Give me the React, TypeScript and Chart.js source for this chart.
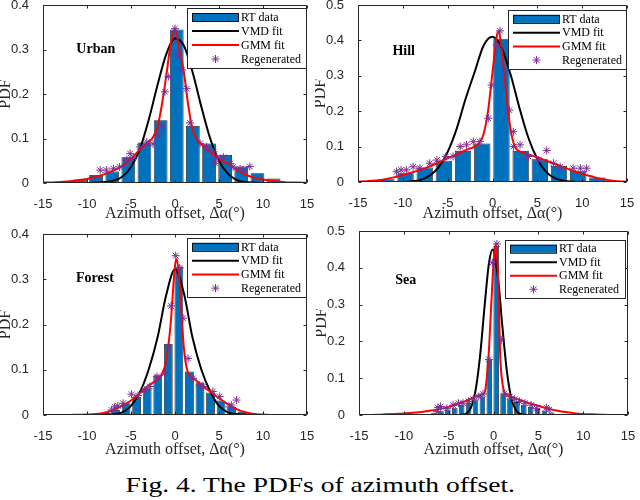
import React, { useEffect, useRef } from "react";
import { Chart, registerables } from "chart.js";

Chart.register(...registerables);

const BLUE = "#0072BD";
const PURPLE = "#7E2F8E";
const AXIS = "#262626";

const xTicks = [-15, -10, -5, 0, 5, 10, 15];
const yTicks04 = [0, 0.1, 0.2, 0.3, 0.4];
const yTicks05 = [0, 0.1, 0.2, 0.3, 0.4, 0.5];
const legendLabels = ["RT data", "VMD fit", "GMM fit", "Regenerated"];
const xTitle = "Azimuth offset, \u0394\u03b1(\u00b0)";
const yTitle = "PDF";
const caption = "Fig. 4. The PDFs of azimuth offset.";

// ---------- Urban ----------
const urbanBinX = [-10.8, -8.97, -7.13, -5.3, -3.47, -1.63, 0.2, 2.03, 3.87, 5.7, 7.53, 9.37, 11.2];
const urbanBinY = [0.008, 0.018, 0.026, 0.058, 0.091, 0.141, 0.345, 0.128, 0.089, 0.063, 0.037, 0.022, 0.01];
const urbanVmdX = [-15, -14, -13, -12, -11, -10, -9, -8, -7, -6, -5, -4, -3, -2, -1, 0, 1, 2, 3, 4, 5, 6, 7, 8, 9, 10, 11, 12, 13, 14, 15];
const urbanVmdY = [0, 0, 0, 0, 0, 0, 0.001, 0.002, 0.005, 0.014, 0.036, 0.076, 0.141, 0.219, 0.289, 0.325, 0.309, 0.249, 0.171, 0.1, 0.05, 0.021, 0.007, 0.002, 0.001, 0, 0, 0, 0, 0, 0];
const urbanGmmX = [-15, -14, -13, -12, -11, -10, -9, -8, -7, -6, -5, -4, -3, -2.5, -2, -1.5, -1, -0.5, 0, 0.5, 1, 1.5, 2, 2.5, 3, 4, 5, 6, 7, 8, 9, 10, 11, 12, 13, 14, 15];
const urbanGmmY = [0.001, 0.001, 0.002, 0.004, 0.006, 0.009, 0.014, 0.02, 0.028, 0.038, 0.054, 0.075, 0.092, 0.103, 0.125, 0.175, 0.24, 0.31, 0.345, 0.3, 0.25, 0.175, 0.12, 0.098, 0.087, 0.07, 0.055, 0.043, 0.03, 0.019, 0.012, 0.008, 0.005, 0.003, 0.001, 0.001, 0];
const urbanRegX = [0, 0.4, 0.8, -0.76, 1.33, -1.14, 1.7, -1.5, -1.9, -3.2, -2.5, -4.0, -5.1, -4.75, -5.5, 2.85, 3.6, 4.4, 4.75, 5.5, 4.56, 6.3, 6.6, 7.4, 8.5, 7.8, -8.5, -7.8, -7.0, -6.3];
const urbanRegY = [0.347, 0.29, 0.254, 0.239, 0.212, 0.205, 0.135, 0.126, 0.107, 0.092, 0.088, 0.081, 0.066, 0.058, 0.051, 0.089, 0.081, 0.07, 0.055, 0.058, 0.044, 0.044, 0.036, 0.032, 0.037, 0.029, 0.029, 0.029, 0.032, 0.036];

// ---------- Hill ----------
const hillBinX = [-11.84, -9.7, -7.56, -5.42, -3.28, -1.14, 1.0, 3.14, 5.28, 7.42, 9.56, 11.7];
const hillBinY = [0.008, 0.025, 0.041, 0.06, 0.088, 0.109, 0.405, 0.088, 0.064, 0.045, 0.032, 0.013];
const hillVmdX = [-15, -14, -13, -12, -11, -10, -9, -8, -7, -6, -5, -4, -3, -2, -1, 0, 1, 2, 3, 4, 5, 6, 7, 8, 9, 10, 11, 12, 13, 14, 15];
const hillVmdY = [0, 0, 0, 0, 0, 0, 0.002, 0.006, 0.018, 0.042, 0.085, 0.15, 0.235, 0.31, 0.385, 0.41, 0.38, 0.305, 0.21, 0.125, 0.065, 0.028, 0.01, 0.003, 0.001, 0, 0, 0, 0, 0, 0];
const hillGmmX = [-15, -14, -13, -12, -11, -10, -9, -8, -7, -6, -5, -4, -3, -2, -1.5, -1, -0.5, 0, 0.5, 0.7, 1, 1.5, 2, 2.5, 3, 4, 5, 6, 7, 8, 9, 10, 11, 12, 13, 14, 15];
const hillGmmY = [0.001, 0.002, 0.004, 0.008, 0.013, 0.02, 0.027, 0.035, 0.044, 0.055, 0.067, 0.078, 0.09, 0.1, 0.11, 0.135, 0.2, 0.31, 0.415, 0.425, 0.38, 0.26, 0.15, 0.1, 0.087, 0.078, 0.07, 0.06, 0.051, 0.041, 0.031, 0.023, 0.016, 0.009, 0.005, 0.002, 0.001];
const hillRegX = [0.84, 0.47, -0.1, 1.4, 1.88, 2.33, -0.47, 3.07, 2.33, 4.0, 5.1, 6.05, 6.8, 7.55, 9.0, 9.8, 10.5, -1.4, -2.14, -2.9, -3.6, -4.4, -5.2, -6.2, -7.0, -8.1, -8.85, -9.6, -10.2, -10.7];
const hillRegY = [0.427, 0.387, 0.274, 0.312, 0.203, 0.142, 0.18, 0.105, 0.1, 0.072, 0.062, 0.089, 0.053, 0.043, 0.039, 0.039, 0.039, 0.114, 0.114, 0.105, 0.1, 0.072, 0.072, 0.062, 0.053, 0.039, 0.043, 0.034, 0.034, 0.029];

// ---------- Forest ----------
const forestBinX = [-11.56, -10.36, -9.16, -7.96, -6.76, -5.56, -4.36, -3.16, -1.96, -0.76, 0.44, 1.64, 2.84, 4.04, 5.24, 6.44, 7.64, 8.84, 10.04];
const forestBinY = [0.001, 0.002, 0.003, 0.005, 0.011, 0.026, 0.04, 0.059, 0.088, 0.157, 0.328, 0.096, 0.072, 0.05, 0.032, 0.018, 0.008, 0.003, 0.002];
const forestVmdX = [-15, -14, -13, -12, -11, -10, -9, -8, -7, -6, -5, -4, -3, -2, -1, 0, 1, 2, 3, 4, 5, 6, 7, 8, 9, 10, 11, 12, 13, 14, 15];
const forestVmdY = [0, 0, 0, 0, 0, 0, 0, 0.001, 0.002, 0.006, 0.02, 0.05, 0.1, 0.17, 0.265, 0.322, 0.27, 0.17, 0.1, 0.052, 0.02, 0.006, 0.002, 0.001, 0, 0, 0, 0, 0, 0, 0];
const forestGmmX = [-15, -12, -11, -10, -9, -8, -7, -6, -5, -4, -3, -2, -1.5, -1, -0.5, 0, 0.2, 0.5, 1, 1.5, 2, 3, 4, 5, 6, 7, 8, 9, 10, 11, 12, 15];
const forestGmmY = [0, 0, 0.0005, 0.001, 0.002, 0.005, 0.011, 0.02, 0.032, 0.048, 0.065, 0.079, 0.09, 0.12, 0.2, 0.33, 0.345, 0.3, 0.15, 0.092, 0.083, 0.066, 0.052, 0.037, 0.024, 0.013, 0.006, 0.002, 0.001, 0, 0, 0];
const forestRegX = [0.08, 0.53, 0.91, -0.45, 1.48, -0.8, -1.17, -2.05, -2.87, -3.44, -4.95, -4.2, -5.9, -6.85, -6.5, -7.2, 2.05, 2.8, 3.2, 4.3, 5.08, 6.2, 7.0, 6.4];
const forestRegY = [0.352, 0.325, 0.214, 0.241, 0.125, 0.149, 0.092, 0.085, 0.063, 0.055, 0.046, 0.043, 0.026, 0.018, 0.02, 0.011, 0.081, 0.066, 0.063, 0.052, 0.041, 0.018, 0.033, 0.022];

// ---------- Sea ----------
const seaBinX = [-6.63, -5.86, -5.09, -4.32, -3.55, -2.78, -2.01, -1.24, -0.47, 0.3, 1.07, 1.84, 2.61, 3.38, 4.15, 4.92, 5.69, 6.46, 7.23];
const seaBinY = [0.006, 0.01, 0.015, 0.02, 0.027, 0.033, 0.04, 0.05, 0.15, 0.46, 0.058, 0.045, 0.035, 0.028, 0.022, 0.016, 0.012, 0.007, 0.003];
const seaVmdX = [-15, -10, -5, -4, -3.5, -3, -2.5, -2, -1.5, -1, -0.5, -0.1, 0.5, 1, 1.5, 2, 2.5, 3, 3.5, 4, 5, 10, 15];
const seaVmdY = [0, 0, 0, 0, 0.001, 0.005, 0.021, 0.067, 0.16, 0.294, 0.414, 0.45, 0.372, 0.238, 0.117, 0.044, 0.013, 0.003, 0.001, 0, 0, 0, 0];
const seaGmmX = [-15, -13, -12, -11, -10, -9, -8, -7, -6, -5, -4, -3, -2, -1.5, -1, -0.75, -0.5, -0.25, 0, 0.25, 0.5, 0.75, 1, 1.25, 1.5, 2, 3, 4, 5, 6, 7, 8, 9, 10, 11, 12, 13, 15];
const seaGmmY = [0, 0.001, 0.002, 0.003, 0.004, 0.006, 0.008, 0.012, 0.016, 0.022, 0.03, 0.039, 0.05, 0.054, 0.06, 0.1, 0.18, 0.3, 0.41, 0.465, 0.38, 0.16, 0.085, 0.06, 0.056, 0.05, 0.04, 0.032, 0.025, 0.018, 0.012, 0.008, 0.005, 0.003, 0.002, 0.001, 0, 0];
const seaRegX = [0.38, -0.13, 0.87, -0.5, 1.24, -1.18, -1.7, -2.25, -2.8, -3.4, -3.9, -4.5, -5.2, -5.9, -6.3, -6.2, 1.8, 2.36, 2.9, 3.5, 4.2, 4.78, 5.9, 6.2];
const seaRegY = [0.465, 0.414, 0.204, 0.151, 0.059, 0.057, 0.05, 0.043, 0.037, 0.032, 0.032, 0.027, 0.018, 0.023, 0.009, 0.02, 0.05, 0.043, 0.037, 0.032, 0.027, 0.018, 0.02, 0.014];

const pts = (xs: number[], ys: number[]) => xs.map((x, i) => ({ x, y: ys[i] }));

const SERIF = '"Liberation Serif", "Times New Roman", serif';

const decoPlugin = {
  id: "deco",
  afterDraw(chart: any, _args: any, opts: any) {
    const { ctx, chartArea: a } = chart;
    const xs = chart.scales.x;
    const ys = chart.scales.y;
    ctx.save();
    ctx.strokeStyle = AXIS;
    ctx.lineWidth = 1;
    const L = Math.round(a.left) + 0.5;
    const T = Math.round(a.top) + 0.5;
    const R = Math.round(a.right) - 0.5;
    const B = Math.round(a.bottom) - 0.5;
    ctx.beginPath();
    ctx.rect(L, T, R - L, B - T);
    xTicks.forEach((v) => {
      const p = Math.round(xs.getPixelForValue(v)) + 0.5;
      ctx.moveTo(p, B); ctx.lineTo(p, B - 3);
      ctx.moveTo(p, T); ctx.lineTo(p, T + 3);
    });
    (opts.yTicks as number[]).forEach((v) => {
      const p = Math.round(ys.getPixelForValue(v)) + 0.5;
      ctx.moveTo(L, p); ctx.lineTo(L + 3, p);
      ctx.moveTo(R, p); ctx.lineTo(R - 3, p);
    });
    ctx.stroke();

    ctx.fillStyle = "#000";
    ctx.font = "bold 14px " + SERIF;
    ctx.textAlign = "center";
    ctx.textBaseline = "middle";
    ctx.fillText(opts.label, xs.getPixelForValue(opts.labelX), ys.getPixelForValue(opts.labelY));

    const lg = opts.legend;
    const lx = Math.round(a.right - lg.rightOff - lg.w);
    const ly = Math.round(a.top + lg.topOff);
    ctx.fillStyle = "#fff";
    ctx.fillRect(lx, ly, lg.w, lg.h);
    ctx.strokeStyle = AXIS;
    ctx.lineWidth = 1;
    ctx.strokeRect(lx + 0.5, ly + 0.5, lg.w, lg.h);
    const row = (lg.h - 4) / 4;
    const sx0 = lx + 5;
    const sx1 = lx + 52;
    const rows = [0, 1, 2, 3].map((i) => ly + 2 + row * (i + 0.5));
    ctx.fillStyle = BLUE;
    ctx.fillRect(sx0, rows[0] - 4, sx1 - sx0, 8);
    ctx.strokeStyle = "#111";
    ctx.strokeRect(sx0 + 0.5, rows[0] - 4 + 0.5, sx1 - sx0 - 1, 8);
    ctx.lineWidth = 2;
    ctx.strokeStyle = "#000";
    ctx.beginPath(); ctx.moveTo(sx0, rows[1]); ctx.lineTo(sx1, rows[1]); ctx.stroke();
    ctx.strokeStyle = "#ff0000";
    ctx.beginPath(); ctx.moveTo(sx0, rows[2]); ctx.lineTo(sx1, rows[2]); ctx.stroke();
    ctx.lineWidth = 1;
    ctx.strokeStyle = PURPLE;
    const cx = (sx0 + sx1) / 2;
    const cy = rows[3];
    const r = 4;
    ctx.beginPath();
    for (let k = 0; k < 4; k++) {
      const ang = (k * Math.PI) / 4;
      ctx.moveTo(cx - r * Math.cos(ang), cy - r * Math.sin(ang));
      ctx.lineTo(cx + r * Math.cos(ang), cy + r * Math.sin(ang));
    }
    ctx.stroke();
    ctx.fillStyle = "#000";
    ctx.font = "12px " + SERIF;
    ctx.textAlign = "left";
    ctx.textBaseline = "middle";
    legendLabels.forEach((t, i) => ctx.fillText(t, sx1 + 2, rows[i] + 0.5));
    ctx.restore();
  },
};

type PanelCfg = {
  left: number; top: number; w: number; h: number;
  padTop: number; padRight: number; yWidth: number; xHeight: number;
  ymax: number; yTicks: number[];
  label: string; labelX: number; labelY: number;
  legend: { rightOff: number; topOff: number; w: number; h: number };
  binX: number[]; binY: number[]; barPct: number;
  vmdX: number[]; vmdY: number[]; gmmX: number[]; gmmY: number[];
  regX: number[]; regY: number[];
};

const panels: PanelCfg[] = [
  {
    left: 0, top: 0, w: 320, h: 225, padTop: 5, padRight: 13, yWidth: 43, xHeight: 42,
    ymax: 0.4, yTicks: yTicks04, label: "Urban", labelX: -9, labelY: 0.3,
    legend: { rightOff: 1, topOff: 3, w: 119, h: 60 },
    binX: urbanBinX, binY: urbanBinY, barPct: 0.85,
    vmdX: urbanVmdX, vmdY: urbanVmdY, gmmX: urbanGmmX, gmmY: urbanGmmY, regX: urbanRegX, regY: urbanRegY,
  },
  {
    left: 315, top: 0, w: 325, h: 225, padTop: 5, padRight: 13, yWidth: 43, xHeight: 43,
    ymax: 0.5, yTicks: yTicks05, label: "Hill", labelX: -9.9, labelY: 0.37,
    legend: { rightOff: 1, topOff: 5, w: 118, h: 59 },
    binX: hillBinX, binY: hillBinY, barPct: 0.85,
    vmdX: hillVmdX, vmdY: hillVmdY, gmmX: hillGmmX, gmmY: hillGmmY, regX: hillRegX, regY: hillRegY,
  },
  {
    left: 0, top: 225, w: 320, h: 236, padTop: 9, padRight: 13, yWidth: 43, xHeight: 46,
    ymax: 0.4, yTicks: yTicks04, label: "Forest", labelX: -9.1, labelY: 0.303,
    legend: { rightOff: 1, topOff: 4, w: 119, h: 59 },
    binX: forestBinX, binY: forestBinY, barPct: 0.83,
    vmdX: forestVmdX, vmdY: forestVmdY, gmmX: forestGmmX, gmmY: forestGmmY, regX: forestRegX, regY: forestRegY,
  },
  {
    left: 316, top: 225, w: 324, h: 236, padTop: 6, padRight: 12, yWidth: 43, xHeight: 46,
    ymax: 0.5, yTicks: yTicks05, label: "Sea", labelX: -9.8, labelY: 0.367,
    legend: { rightOff: 3, topOff: 9, w: 120, h: 58 },
    binX: seaBinX, binY: seaBinY, barPct: 0.8,
    vmdX: seaVmdX, vmdY: seaVmdY, gmmX: seaGmmX, gmmY: seaGmmY, regX: seaRegX, regY: seaRegY,
  },
];

function Panel({ cfg }: { cfg: PanelCfg }) {
  const ref = useRef<HTMLCanvasElement>(null);
  useEffect(() => {
    const tickFont = { family: '"Liberation Sans", Arial, sans-serif', size: 13 };
    const chart = new Chart(ref.current as HTMLCanvasElement, {
      type: "bar",
      data: {
        datasets: [
          {
            type: "line",
            label: "Regenerated",
            data: pts(cfg.regX, cfg.regY),
            showLine: false,
            pointStyle: "star",
            pointRadius: 4,
            pointBorderWidth: 1,
            borderColor: PURPLE,
            backgroundColor: PURPLE,
            order: 1,
          } as any,
          {
            type: "line",
            label: "GMM fit",
            data: pts(cfg.gmmX, cfg.gmmY),
            borderColor: "#ff0000",
            borderWidth: 2,
            pointRadius: 0,
            cubicInterpolationMode: "monotone",
            order: 2,
          } as any,
          {
            type: "line",
            label: "VMD fit",
            data: pts(cfg.vmdX, cfg.vmdY),
            borderColor: "#000000",
            borderWidth: 2,
            pointRadius: 0,
            cubicInterpolationMode: "monotone",
            order: 3,
          } as any,
          {
            type: "bar",
            label: "RT data",
            data: pts(cfg.binX, cfg.binY),
            backgroundColor: BLUE,
            borderColor: "#1a1a1a",
            borderWidth: 0.8,
            barPercentage: cfg.barPct,
            categoryPercentage: 1,
            order: 4,
          } as any,
        ],
      },
      options: {
        responsive: false,
        animation: false,
        events: [],
        layout: { padding: { left: 0, top: cfg.padTop, right: cfg.padRight, bottom: 0 } },
        plugins: {
          legend: { display: false },
          tooltip: { enabled: false },
          deco: { label: cfg.label, labelX: cfg.labelX, labelY: cfg.labelY, legend: cfg.legend, yTicks: cfg.yTicks },
        } as any,
        scales: {
          x: {
            type: "linear",
            min: -15,
            max: 15,
            offset: false,
            grid: { display: false },
            border: { display: false },
            ticks: { stepSize: 5, font: tickFont, color: AXIS, padding: 6, maxRotation: 0, autoSkip: false },
            title: {
              display: true,
              text: xTitle,
              font: { family: SERIF, size: 16, lineHeight: 1.2 },
              color: AXIS,
              padding: { top: 0, bottom: 2 },
            },
            afterFit: (s: any) => {
              s.height = cfg.xHeight;
              s.paddingLeft = 0;
              s.paddingRight = 0;
            },
          } as any,
          y: {
            type: "linear",
            min: 0,
            max: cfg.ymax,
            grid: { display: false },
            border: { display: false },
            ticks: { stepSize: 0.1, font: tickFont, color: AXIS, padding: 6 },
            title: {
              display: true,
              text: yTitle,
              font: { family: SERIF, size: 16, lineHeight: 0.75 },
              color: AXIS,
              padding: { top: 0, bottom: 0 },
            },
            afterFit: (s: any) => {
              s.width = cfg.yWidth;
              s.paddingTop = 0;
              s.paddingBottom = 0;
            },
          } as any,
        },
      },
      plugins: [decoPlugin as any],
    });
    return () => chart.destroy();
  }, []);
  return (
    <canvas
      ref={ref}
      width={cfg.w}
      height={cfg.h}
      style={{ position: "absolute", left: cfg.left, top: cfg.top, width: cfg.w, height: cfg.h }}
    />
  );
}

export default function App() {
  return (
    <div style={{ position: "fixed", left: 0, top: 0, width: 640, height: 500, background: "#fff", overflow: "hidden" }}>
      {panels.map((p, i) => (
        <Panel key={i} cfg={p} />
      ))}
      <div
        style={{
          position: "absolute",
          left: 0,
          top: 472,
          width: 640,
          textAlign: "center",
          fontFamily: SERIF,
          fontSize: 22,
          lineHeight: "25px",
          color: "#000",
          transform: "scaleX(1.25)",
          transformOrigin: "319px 0",
          whiteSpace: "nowrap",
        }}
      >
        {caption}
      </div>
    </div>
  );
}
